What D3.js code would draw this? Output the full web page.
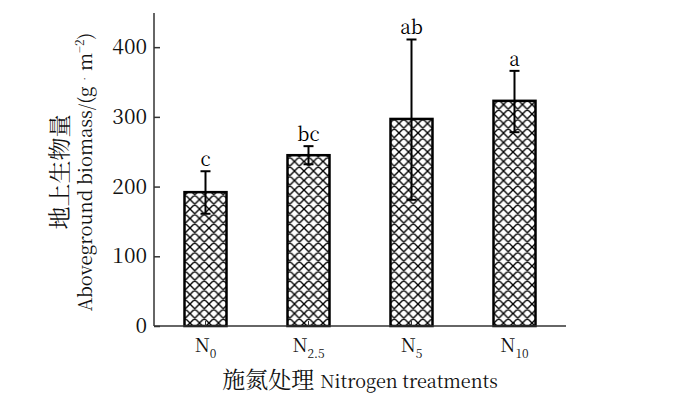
<!DOCTYPE html>
<html><head><meta charset="utf-8">
<script src="https://cdn.jsdelivr.net/npm/d3@7"></script>
<style>
body{margin:0;background:#fff}svg{display:block}
.serif{font-family:"Noto Serif CJK SC","Liberation Serif","DejaVu Serif",serif}
.cjk{font-family:"Noto Serif CJK SC","Noto Sans CJK SC","Noto Sans CJK JP",sans-serif}
</style>
</head><body>
<svg id="c" width="700" height="397"></svg>
<script>
const categories = ["N0", "N2.5", "N5", "N10"];
const catMain = ["N", "N", "N", "N"];
const catSub = ["0", "2.5", "5", "10"];
const means = [192, 245, 297, 323];
const errLow = [161, 232, 181, 278];
const errHigh = [222, 258, 411, 366];
const letters = ["c", "bc", "ab", "a"];
const yTicks = [0, 100, 200, 300, 400];

const svg = d3.select("#c");

const x = d3.scaleBand().domain(categories).range([154, 566]).padding(0);
const y = d3.scaleLinear().domain([0, 449]).range([326, 13]);
const barW = 42;

// hatch pattern
const defs = svg.append("defs");
const P = 9.5;
const pat = defs.append("pattern").attr("id","hatch").attr("patternUnits","userSpaceOnUse")
  .attr("width",P).attr("height",P);
pat.append("rect").attr("width",P).attr("height",P).attr("fill","#fff");
pat.append("path").attr("d",`M0,0L${P},${P}M0,${P}L${P},0M-1,1L1,-1M${P-1},${P+1}L${P+1},${P-1}M-1,${P-1}L1,${P+1}M${P-1},-1L${P+1},1`)
  .attr("stroke","#000").attr("stroke-width",1.35);

// bars
svg.append("g").selectAll("rect").data(categories).join("rect")
  .attr("x", d => x(d) + x.bandwidth()/2 - barW/2)
  .attr("y", (d,i) => y(means[i]))
  .attr("width", barW)
  .attr("height", (d,i) => y(0) - y(means[i]))
  .attr("fill","url(#hatch)").attr("stroke","#000").attr("stroke-width",2.5);

// error bars
const eg = svg.append("g").attr("stroke","#000").attr("stroke-width",2);
categories.forEach((d,i) => {
  const cx = x(d) + x.bandwidth()/2;
  eg.append("line").attr("x1",cx).attr("x2",cx).attr("y1",y(errLow[i])).attr("y2",y(errHigh[i]));
  eg.append("line").attr("x1",cx-5).attr("x2",cx+5).attr("y1",y(errLow[i])).attr("y2",y(errLow[i]));
  eg.append("line").attr("x1",cx-5).attr("x2",cx+5).attr("y1",y(errHigh[i])).attr("y2",y(errHigh[i]));
});

// significance letters
svg.append("g").selectAll("text").data(categories).join("text")
  .attr("class","serif")
  .attr("x", d => x(d) + x.bandwidth()/2)
  .attr("y", (d,i) => y(errHigh[i]) - 5)
  .attr("text-anchor","middle").attr("font-size",19)
  .attr("fill","#000").text((d,i) => letters[i]);

// y axis
const yAxis = d3.axisRight(y).tickValues(yTicks).tickSize(6).tickFormat("");
const ya = svg.append("g").attr("transform","translate(154,0)").call(yAxis);
ya.select(".domain").attr("d","M0,13V326").attr("stroke","#333").attr("stroke-width",1.5);
ya.selectAll(".tick line").attr("stroke","#333").attr("stroke-width",1.5);
svg.append("g").selectAll("text").data(yTicks).join("text")
  .attr("class","serif")
  .attr("x",147).attr("y", d => y(d)).attr("dy","0.34em")
  .attr("text-anchor","end").attr("font-size",21).attr("fill","#111")
  .text(d => d);

// x axis
const xAxis = d3.axisTop(x).tickSize(5).tickFormat("");
const xa = svg.append("g").attr("transform","translate(0,326)").call(xAxis);
xa.select(".domain").attr("d","M154,0H566").attr("stroke","#333").attr("stroke-width",1.5);
xa.selectAll(".tick line").attr("stroke","#333").attr("stroke-width",1);

const xl = svg.append("g").selectAll("text").data(categories).join("text")
  .attr("class","serif")
  .attr("x", d => x(d) + x.bandwidth()/2)
  .attr("y", 352).attr("text-anchor","middle").attr("font-size",19).attr("fill","#111");
xl.append("tspan").text((d,i) => catMain[i]);
xl.append("tspan").attr("font-size",12).attr("dy",6).text((d,i) => catSub[i]);

// x title
const xt = svg.append("text").attr("x",360).attr("y",388).attr("text-anchor","middle")
  .attr("font-size",18).attr("fill","#111");
xt.append("tspan").attr("class","cjk").attr("font-size",23).text("施氮处理 ");
xt.append("tspan").attr("class","serif").text("Nitrogen treatments");

// y title
svg.append("text").attr("class","cjk").attr("transform","translate(68,172) rotate(-90)").attr("text-anchor","middle")
  .attr("font-size",23).attr("fill","#111").text("地上生物量");
const yt = svg.append("text").attr("class","serif").attr("transform","translate(92,172) rotate(-90)").attr("text-anchor","middle")
  .attr("font-size",18.5).attr("fill","#111");
yt.append("tspan").text("Aboveground biomass/(g");
yt.append("tspan").attr("font-size",11).attr("dy",-3).text("\u2009•\u2009");
yt.append("tspan").attr("dy",3).text("m");
yt.append("tspan").attr("font-size",12).attr("dy",-8).text("−2");
yt.append("tspan").attr("dy",8).text(")");
</script>
</body></html>
